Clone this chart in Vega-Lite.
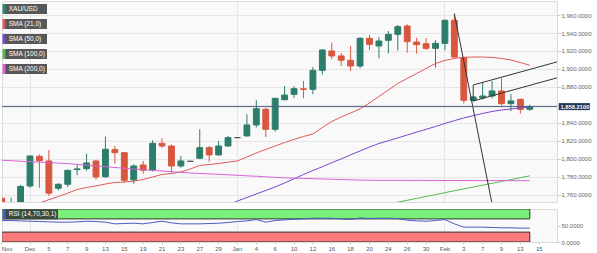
{
  "$schema": "https://vega.github.io/schema/vega-lite/v6.json",
  "padding": 0,
  "background": "white",
  "spacing": 5,
  "config": {
    "view": {"fill": "#f9f9f9", "stroke": "#dcdcdc"},
    "font": "Liberation Sans",
    "axis": {"labelOverlap": false},
    "axisX": {"labels": false, "ticks": false, "domain": false, "title": null, "grid": true, "gridColor": "#e4e4e4"},
    "axisY": {"title": null, "labelOverlap": false}
  },
  "resolve": {"scale": {"color": "independent"}, "legend": {"color": "independent"}},
  "datasets": {
    "candles": [
      {"d":"2022-11-28","o":1756.5,"h":1758,"l":1740,"c":1742},
      {"d":"2022-11-29","o":1741,"h":1757,"l":1738,"c":1749},
      {"d":"2022-11-30","o":1749,"h":1771,"l":1744,"c":1769.5},
      {"d":"2022-12-01","o":1770,"h":1803.8,"l":1768,"c":1803.3},
      {"d":"2022-12-02","o":1803,"h":1805,"l":1768,"c":1798},
      {"d":"2022-12-05","o":1797.8,"h":1810,"l":1759,"c":1762},
      {"d":"2022-12-06","o":1767.5,"h":1773,"l":1765,"c":1771.9},
      {"d":"2022-12-07","o":1771.9,"h":1788,"l":1769,"c":1787.4},
      {"d":"2022-12-08","o":1788.2,"h":1794,"l":1782,"c":1789},
      {"d":"2022-12-09","o":1789.2,"h":1805.9,"l":1787,"c":1795.6},
      {"d":"2022-12-12","o":1797.8,"h":1799,"l":1777,"c":1780},
      {"d":"2022-12-13","o":1780.3,"h":1824.8,"l":1779,"c":1810.8},
      {"d":"2022-12-14","o":1810.4,"h":1814.4,"l":1794.8,"c":1807},
      {"d":"2022-12-15","o":1807,"h":1808,"l":1773.7,"c":1776.3},
      {"d":"2022-12-16","o":1776.7,"h":1794,"l":1772.6,"c":1792.2},
      {"d":"2022-12-19","o":1793.3,"h":1797.8,"l":1783.7,"c":1787.4},
      {"d":"2022-12-20","o":1787.8,"h":1820.8,"l":1786,"c":1817.4},
      {"d":"2022-12-21","o":1817.4,"h":1823,"l":1812.6,"c":1814.4},
      {"d":"2022-12-22","o":1814.4,"h":1816,"l":1784.8,"c":1792.2},
      {"d":"2022-12-23","o":1792.2,"h":1803.3,"l":1790.4,"c":1797.8},
      {"d":"2022-12-26","o":1797.4,"h":1797.4,"l":1797.4,"c":1797.4},
      {"d":"2022-12-27","o":1800.8,"h":1833,"l":1800,"c":1812.6},
      {"d":"2022-12-28","o":1812.6,"h":1814.4,"l":1797,"c":1804.5},
      {"d":"2022-12-29","o":1804.5,"h":1820,"l":1803.5,"c":1814.4},
      {"d":"2022-12-30","o":1814.4,"h":1825.6,"l":1813.5,"c":1823.7},
      {"d":"2023-01-02","o":1823.7,"h":1823.7,"l":1823.7,"c":1823.7},
      {"d":"2023-01-03","o":1825.6,"h":1849.7,"l":1825,"c":1837.8},
      {"d":"2023-01-04","o":1837.8,"h":1865.2,"l":1835,"c":1855.9},
      {"d":"2023-01-05","o":1855.2,"h":1857,"l":1824.5,"c":1833},
      {"d":"2023-01-06","o":1833,"h":1868,"l":1830.4,"c":1867.4},
      {"d":"2023-01-09","o":1865.9,"h":1881.1,"l":1865,"c":1871},
      {"d":"2023-01-10","o":1871.9,"h":1881,"l":1868,"c":1878.1},
      {"d":"2023-01-11","o":1878,"h":1886.7,"l":1867.4,"c":1877.4},
      {"d":"2023-01-12","o":1877.4,"h":1902.2,"l":1871.9,"c":1898.5},
      {"d":"2023-01-13","o":1898.5,"h":1922,"l":1894,"c":1921.1},
      {"d":"2023-01-16","o":1920,"h":1929.3,"l":1910.8,"c":1914.5},
      {"d":"2023-01-17","o":1914.5,"h":1918,"l":1903.3,"c":1909.7},
      {"d":"2023-01-18","o":1909.7,"h":1925.6,"l":1897.8,"c":1903.3},
      {"d":"2023-01-19","o":1903.3,"h":1935.5,"l":1900.8,"c":1934.1},
      {"d":"2023-01-20","o":1934.1,"h":1937.8,"l":1921.1,"c":1927.4},
      {"d":"2023-01-23","o":1925.6,"h":1935.6,"l":1911.9,"c":1931.1},
      {"d":"2023-01-24","o":1931.9,"h":1942.2,"l":1917.4,"c":1938.5},
      {"d":"2023-01-25","o":1938.5,"h":1948.9,"l":1920.8,"c":1947},
      {"d":"2023-01-26","o":1947.8,"h":1949.7,"l":1918,"c":1930.4},
      {"d":"2023-01-27","o":1930,"h":1934.8,"l":1917,"c":1927},
      {"d":"2023-01-30","o":1928.1,"h":1934.4,"l":1921,"c":1923},
      {"d":"2023-01-31","o":1923,"h":1932,"l":1901.5,"c":1928.5},
      {"d":"2023-02-01","o":1928.5,"h":1955,"l":1920.8,"c":1954.1},
      {"d":"2023-02-02","o":1954.1,"h":1961.5,"l":1912,"c":1913.3},
      {"d":"2023-02-03","o":1912.6,"h":1913.5,"l":1861.5,"c":1865.2},
      {"d":"2023-02-06","o":1865.2,"h":1870,"l":1863.7,"c":1868.9},
      {"d":"2023-02-07","o":1868,"h":1884.8,"l":1866,"c":1870},
      {"d":"2023-02-08","o":1870,"h":1886.7,"l":1867.4,"c":1875.6},
      {"d":"2023-02-09","o":1875.6,"h":1889.6,"l":1859.5,"c":1861.5},
      {"d":"2023-02-10","o":1861.5,"h":1871.9,"l":1853.3,"c":1864.5},
      {"d":"2023-02-13","o":1866.3,"h":1867,"l":1850.4,"c":1855.2},
      {"d":"2023-02-14","o":1855.2,"h":1860.5,"l":1853.5,"c":1858.21}
    ],
    "sma": [
      {"s":"SMA (21,0)","d":"2022-11-28","v":1740},{"s":"SMA (21,0)","d":"2022-11-29","v":1742.5},{"s":"SMA (21,0)","d":"2022-11-30","v":1745},
      {"s":"SMA (21,0)","d":"2022-12-01","v":1747.6},{"s":"SMA (21,0)","d":"2022-12-02","v":1751.1},{"s":"SMA (21,0)","d":"2022-12-05","v":1754.8},
      {"s":"SMA (21,0)","d":"2022-12-06","v":1758.3},{"s":"SMA (21,0)","d":"2022-12-07","v":1762},{"s":"SMA (21,0)","d":"2022-12-08","v":1766.1},
      {"s":"SMA (21,0)","d":"2022-12-09","v":1768.3},{"s":"SMA (21,0)","d":"2022-12-12","v":1770},{"s":"SMA (21,0)","d":"2022-12-13","v":1772.2},
      {"s":"SMA (21,0)","d":"2022-12-14","v":1773.9},{"s":"SMA (21,0)","d":"2022-12-15","v":1774.4},{"s":"SMA (21,0)","d":"2022-12-16","v":1775.3},
      {"s":"SMA (21,0)","d":"2022-12-19","v":1777.2},{"s":"SMA (21,0)","d":"2022-12-20","v":1780},{"s":"SMA (21,0)","d":"2022-12-21","v":1782.8},
      {"s":"SMA (21,0)","d":"2022-12-22","v":1783.9},{"s":"SMA (21,0)","d":"2022-12-23","v":1785.6},{"s":"SMA (21,0)","d":"2022-12-26","v":1788.9},
      {"s":"SMA (21,0)","d":"2022-12-27","v":1792.8},{"s":"SMA (21,0)","d":"2022-12-28","v":1793.9},{"s":"SMA (21,0)","d":"2022-12-29","v":1795},
      {"s":"SMA (21,0)","d":"2022-12-30","v":1796.5},{"s":"SMA (21,0)","d":"2023-01-02","v":1797.8},{"s":"SMA (21,0)","d":"2023-01-03","v":1802.2},
      {"s":"SMA (21,0)","d":"2023-01-04","v":1806.7},{"s":"SMA (21,0)","d":"2023-01-05","v":1810.6},{"s":"SMA (21,0)","d":"2023-01-06","v":1814.4},
      {"s":"SMA (21,0)","d":"2023-01-09","v":1818.3},{"s":"SMA (21,0)","d":"2023-01-10","v":1821.7},{"s":"SMA (21,0)","d":"2023-01-11","v":1825},
      {"s":"SMA (21,0)","d":"2023-01-12","v":1827.8},{"s":"SMA (21,0)","d":"2023-01-13","v":1835},{"s":"SMA (21,0)","d":"2023-01-16","v":1841.7},
      {"s":"SMA (21,0)","d":"2023-01-17","v":1846.7},{"s":"SMA (21,0)","d":"2023-01-18","v":1851.1},{"s":"SMA (21,0)","d":"2023-01-19","v":1855.6},
      {"s":"SMA (21,0)","d":"2023-01-20","v":1862.2},{"s":"SMA (21,0)","d":"2023-01-23","v":1869.5},{"s":"SMA (21,0)","d":"2023-01-24","v":1876.7},
      {"s":"SMA (21,0)","d":"2023-01-25","v":1883.9},{"s":"SMA (21,0)","d":"2023-01-26","v":1889.5},{"s":"SMA (21,0)","d":"2023-01-27","v":1895},
      {"s":"SMA (21,0)","d":"2023-01-30","v":1900.6},{"s":"SMA (21,0)","d":"2023-01-31","v":1906.1},{"s":"SMA (21,0)","d":"2023-02-01","v":1909.5},
      {"s":"SMA (21,0)","d":"2023-02-02","v":1911.7},{"s":"SMA (21,0)","d":"2023-02-03","v":1913},{"s":"SMA (21,0)","d":"2023-02-06","v":1913.3},
      {"s":"SMA (21,0)","d":"2023-02-07","v":1913.3},{"s":"SMA (21,0)","d":"2023-02-08","v":1912.8},{"s":"SMA (21,0)","d":"2023-02-09","v":1911.7},
      {"s":"SMA (21,0)","d":"2023-02-10","v":1910},{"s":"SMA (21,0)","d":"2023-02-13","v":1907.2},{"s":"SMA (21,0)","d":"2023-02-14","v":1904.1},

      {"s":"SMA (50,0)","d":"2022-12-29","v":1744.5},{"s":"SMA (50,0)","d":"2022-12-30","v":1748.3},{"s":"SMA (50,0)","d":"2023-01-02","v":1753.3},
      {"s":"SMA (50,0)","d":"2023-01-03","v":1757.2},{"s":"SMA (50,0)","d":"2023-01-04","v":1761.1},{"s":"SMA (50,0)","d":"2023-01-05","v":1765},
      {"s":"SMA (50,0)","d":"2023-01-06","v":1768.9},{"s":"SMA (50,0)","d":"2023-01-09","v":1773.3},{"s":"SMA (50,0)","d":"2023-01-10","v":1778},
      {"s":"SMA (50,0)","d":"2023-01-11","v":1782.8},{"s":"SMA (50,0)","d":"2023-01-12","v":1787.2},{"s":"SMA (50,0)","d":"2023-01-13","v":1791.4},
      {"s":"SMA (50,0)","d":"2023-01-16","v":1795.9},{"s":"SMA (50,0)","d":"2023-01-17","v":1800.1},{"s":"SMA (50,0)","d":"2023-01-18","v":1804.6},
      {"s":"SMA (50,0)","d":"2023-01-19","v":1808.9},{"s":"SMA (50,0)","d":"2023-01-20","v":1813.3},{"s":"SMA (50,0)","d":"2023-01-23","v":1817.2},
      {"s":"SMA (50,0)","d":"2023-01-24","v":1820.3},{"s":"SMA (50,0)","d":"2023-01-25","v":1823.4},{"s":"SMA (50,0)","d":"2023-01-26","v":1826.7},
      {"s":"SMA (50,0)","d":"2023-01-27","v":1829.8},{"s":"SMA (50,0)","d":"2023-01-30","v":1833},{"s":"SMA (50,0)","d":"2023-01-31","v":1836.1},
      {"s":"SMA (50,0)","d":"2023-02-01","v":1839.5},{"s":"SMA (50,0)","d":"2023-02-02","v":1842.6},{"s":"SMA (50,0)","d":"2023-02-03","v":1845.6},
      {"s":"SMA (50,0)","d":"2023-02-06","v":1848.1},{"s":"SMA (50,0)","d":"2023-02-07","v":1850.6},{"s":"SMA (50,0)","d":"2023-02-08","v":1852.8},
      {"s":"SMA (50,0)","d":"2023-02-09","v":1854.4},{"s":"SMA (50,0)","d":"2023-02-10","v":1855.6},{"s":"SMA (50,0)","d":"2023-02-13","v":1856.7},
      {"s":"SMA (50,0)","d":"2023-02-14","v":1857.8},

      {"s":"SMA (100,0)","d":"2023-01-23","v":1747.8},{"s":"SMA (100,0)","d":"2023-01-24","v":1749.9},{"s":"SMA (100,0)","d":"2023-01-25","v":1752},
      {"s":"SMA (100,0)","d":"2023-01-26","v":1754.1},{"s":"SMA (100,0)","d":"2023-01-27","v":1756.2},{"s":"SMA (100,0)","d":"2023-01-30","v":1758.3},
      {"s":"SMA (100,0)","d":"2023-01-31","v":1760.4},{"s":"SMA (100,0)","d":"2023-02-01","v":1762.6},{"s":"SMA (100,0)","d":"2023-02-02","v":1764.7},
      {"s":"SMA (100,0)","d":"2023-02-03","v":1766.7},{"s":"SMA (100,0)","d":"2023-02-06","v":1768.8},{"s":"SMA (100,0)","d":"2023-02-07","v":1770.9},
      {"s":"SMA (100,0)","d":"2023-02-08","v":1773},{"s":"SMA (100,0)","d":"2023-02-09","v":1775},{"s":"SMA (100,0)","d":"2023-02-10","v":1777.1},
      {"s":"SMA (100,0)","d":"2023-02-13","v":1779.2},{"s":"SMA (100,0)","d":"2023-02-14","v":1781.3},

      {"s":"SMA (200,0)","d":"2022-11-28","v":1798.6},{"s":"SMA (200,0)","d":"2022-11-29","v":1798.1},{"s":"SMA (200,0)","d":"2022-11-30","v":1797.5},
      {"s":"SMA (200,0)","d":"2022-12-01","v":1797},{"s":"SMA (200,0)","d":"2022-12-02","v":1796.5},{"s":"SMA (200,0)","d":"2022-12-05","v":1796},
      {"s":"SMA (200,0)","d":"2022-12-06","v":1795.4},{"s":"SMA (200,0)","d":"2022-12-07","v":1794.9},{"s":"SMA (200,0)","d":"2022-12-08","v":1794},
      {"s":"SMA (200,0)","d":"2022-12-09","v":1793.2},{"s":"SMA (200,0)","d":"2022-12-12","v":1792.3},{"s":"SMA (200,0)","d":"2022-12-13","v":1791.4},
      {"s":"SMA (200,0)","d":"2022-12-14","v":1790.6},{"s":"SMA (200,0)","d":"2022-12-15","v":1789.7},{"s":"SMA (200,0)","d":"2022-12-16","v":1788.8},
      {"s":"SMA (200,0)","d":"2022-12-19","v":1788.1},{"s":"SMA (200,0)","d":"2022-12-20","v":1787.4},{"s":"SMA (200,0)","d":"2022-12-21","v":1786.6},
      {"s":"SMA (200,0)","d":"2022-12-22","v":1785.9},{"s":"SMA (200,0)","d":"2022-12-23","v":1785.1},{"s":"SMA (200,0)","d":"2022-12-26","v":1784.4},
      {"s":"SMA (200,0)","d":"2022-12-27","v":1783.9},{"s":"SMA (200,0)","d":"2022-12-28","v":1783.4},{"s":"SMA (200,0)","d":"2022-12-29","v":1782.9},
      {"s":"SMA (200,0)","d":"2022-12-30","v":1782.4},{"s":"SMA (200,0)","d":"2023-01-02","v":1781.9},{"s":"SMA (200,0)","d":"2023-01-03","v":1781.3},
      {"s":"SMA (200,0)","d":"2023-01-04","v":1780.8},{"s":"SMA (200,0)","d":"2023-01-05","v":1780.2},{"s":"SMA (200,0)","d":"2023-01-06","v":1779.6},
      {"s":"SMA (200,0)","d":"2023-01-09","v":1779.1},{"s":"SMA (200,0)","d":"2023-01-10","v":1778.7},{"s":"SMA (200,0)","d":"2023-01-11","v":1778.4},
      {"s":"SMA (200,0)","d":"2023-01-12","v":1778.1},{"s":"SMA (200,0)","d":"2023-01-13","v":1777.8},{"s":"SMA (200,0)","d":"2023-01-16","v":1777.5},
      {"s":"SMA (200,0)","d":"2023-01-17","v":1777.2},{"s":"SMA (200,0)","d":"2023-01-18","v":1776.9},{"s":"SMA (200,0)","d":"2023-01-19","v":1776.6},
      {"s":"SMA (200,0)","d":"2023-01-20","v":1776.4},{"s":"SMA (200,0)","d":"2023-01-23","v":1776.3},{"s":"SMA (200,0)","d":"2023-01-24","v":1776.3},
      {"s":"SMA (200,0)","d":"2023-01-25","v":1776.3},{"s":"SMA (200,0)","d":"2023-01-26","v":1776.2},{"s":"SMA (200,0)","d":"2023-01-27","v":1776.2},
      {"s":"SMA (200,0)","d":"2023-01-30","v":1776.2},{"s":"SMA (200,0)","d":"2023-01-31","v":1776.1},{"s":"SMA (200,0)","d":"2023-02-01","v":1776.1},
      {"s":"SMA (200,0)","d":"2023-02-02","v":1776.1},{"s":"SMA (200,0)","d":"2023-02-03","v":1776.1},{"s":"SMA (200,0)","d":"2023-02-06","v":1776},
      {"s":"SMA (200,0)","d":"2023-02-07","v":1776},{"s":"SMA (200,0)","d":"2023-02-08","v":1776},{"s":"SMA (200,0)","d":"2023-02-09","v":1776},
      {"s":"SMA (200,0)","d":"2023-02-10","v":1775.9},{"s":"SMA (200,0)","d":"2023-02-13","v":1775.9},{"s":"SMA (200,0)","d":"2023-02-14","v":1775.9}
    ],
    "rsi": [
      {"s":"RSI (14,70,30,1)","d":"2022-11-28","r":65},{"s":"RSI (14,70,30,1)","d":"2022-11-29","r":65},{"s":"RSI (14,70,30,1)","d":"2022-11-30","r":64},
      {"s":"RSI (14,70,30,1)","d":"2022-12-01","r":63},{"s":"RSI (14,70,30,1)","d":"2022-12-02","r":62},{"s":"RSI (14,70,30,1)","d":"2022-12-05","r":61},
      {"s":"RSI (14,70,30,1)","d":"2022-12-06","r":60},{"s":"RSI (14,70,30,1)","d":"2022-12-07","r":60},{"s":"RSI (14,70,30,1)","d":"2022-12-08","r":61},
      {"s":"RSI (14,70,30,1)","d":"2022-12-09","r":63},{"s":"RSI (14,70,30,1)","d":"2022-12-12","r":62},{"s":"RSI (14,70,30,1)","d":"2022-12-13","r":60},
      {"s":"RSI (14,70,30,1)","d":"2022-12-14","r":55},{"s":"RSI (14,70,30,1)","d":"2022-12-15","r":56},{"s":"RSI (14,70,30,1)","d":"2022-12-16","r":57},
      {"s":"RSI (14,70,30,1)","d":"2022-12-19","r":55},{"s":"RSI (14,70,30,1)","d":"2022-12-20","r":59},{"s":"RSI (14,70,30,1)","d":"2022-12-21","r":63},
      {"s":"RSI (14,70,30,1)","d":"2022-12-22","r":58},{"s":"RSI (14,70,30,1)","d":"2022-12-23","r":55},{"s":"RSI (14,70,30,1)","d":"2022-12-26","r":55},
      {"s":"RSI (14,70,30,1)","d":"2022-12-27","r":55},{"s":"RSI (14,70,30,1)","d":"2022-12-28","r":56},{"s":"RSI (14,70,30,1)","d":"2022-12-29","r":57},
      {"s":"RSI (14,70,30,1)","d":"2022-12-30","r":59},{"s":"RSI (14,70,30,1)","d":"2023-01-02","r":62},{"s":"RSI (14,70,30,1)","d":"2023-01-03","r":64},
      {"s":"RSI (14,70,30,1)","d":"2023-01-04","r":68},{"s":"RSI (14,70,30,1)","d":"2023-01-05","r":60},{"s":"RSI (14,70,30,1)","d":"2023-01-06","r":65},
      {"s":"RSI (14,70,30,1)","d":"2023-01-09","r":67},{"s":"RSI (14,70,30,1)","d":"2023-01-10","r":69},{"s":"RSI (14,70,30,1)","d":"2023-01-11","r":70},
      {"s":"RSI (14,70,30,1)","d":"2023-01-12","r":72},{"s":"RSI (14,70,30,1)","d":"2023-01-13","r":72},{"s":"RSI (14,70,30,1)","d":"2023-01-16","r":72},
      {"s":"RSI (14,70,30,1)","d":"2023-01-17","r":70},{"s":"RSI (14,70,30,1)","d":"2023-01-18","r":68},{"s":"RSI (14,70,30,1)","d":"2023-01-19","r":73},
      {"s":"RSI (14,70,30,1)","d":"2023-01-20","r":71},{"s":"RSI (14,70,30,1)","d":"2023-01-23","r":72},{"s":"RSI (14,70,30,1)","d":"2023-01-24","r":72},
      {"s":"RSI (14,70,30,1)","d":"2023-01-25","r":71},{"s":"RSI (14,70,30,1)","d":"2023-01-26","r":66},{"s":"RSI (14,70,30,1)","d":"2023-01-27","r":64},
      {"s":"RSI (14,70,30,1)","d":"2023-01-30","r":63},{"s":"RSI (14,70,30,1)","d":"2023-01-31","r":65},{"s":"RSI (14,70,30,1)","d":"2023-02-01","r":68},
      {"s":"RSI (14,70,30,1)","d":"2023-02-02","r":55},{"s":"RSI (14,70,30,1)","d":"2023-02-03","r":45},{"s":"RSI (14,70,30,1)","d":"2023-02-06","r":45},
      {"s":"RSI (14,70,30,1)","d":"2023-02-07","r":45},{"s":"RSI (14,70,30,1)","d":"2023-02-08","r":44},{"s":"RSI (14,70,30,1)","d":"2023-02-09","r":43},
      {"s":"RSI (14,70,30,1)","d":"2023-02-10","r":43},{"s":"RSI (14,70,30,1)","d":"2023-02-13","r":42},{"s":"RSI (14,70,30,1)","d":"2023-02-14","r":42}
    ],
    "ann": [
      {"seg":"drop","d":"2023-02-02","p":1961.5},{"seg":"drop","d":"2023-02-08","p":1750},
      {"seg":"upper","d":"2023-02-06","p":1882.2},{"seg":"upper","d":"2023-02-17","p":1908.2},
      {"seg":"lower","d":"2023-02-06","p":1864.5},{"seg":"lower","d":"2023-02-17","p":1890.5},
      {"seg":"edge","d":"2023-02-06","p":1864.5},{"seg":"edge","d":"2023-02-06","p":1882.2}
    ],
    "last": [{"p":1858.21}]
  },
  "vconcat": [
    {
      "width": 555,
      "height": 201,
      "layer": [
        {
          "mark": {"type": "text", "text": "FX", "align": "left", "baseline": "middle", "dx": -2, "fontSize": 15, "fontWeight": "bold", "font": "Liberation Sans Narrow", "color": "#8c8c8c", "opacity": 0.8},
          "encoding": {
            "x": {"datum": "2022-11-29", "type": "ordinal", "scale": {"type": "band", "domain": ["2022-11-28","2022-11-29","2022-11-30","2022-12-01","2022-12-02","2022-12-05","2022-12-06","2022-12-07","2022-12-08","2022-12-09","2022-12-12","2022-12-13","2022-12-14","2022-12-15","2022-12-16","2022-12-19","2022-12-20","2022-12-21","2022-12-22","2022-12-23","2022-12-26","2022-12-27","2022-12-28","2022-12-29","2022-12-30","2023-01-02","2023-01-03","2023-01-04","2023-01-05","2023-01-06","2023-01-09","2023-01-10","2023-01-11","2023-01-12","2023-01-13","2023-01-16","2023-01-17","2023-01-18","2023-01-19","2023-01-20","2023-01-23","2023-01-24","2023-01-25","2023-01-26","2023-01-27","2023-01-30","2023-01-31","2023-02-01","2023-02-02","2023-02-03","2023-02-06","2023-02-07","2023-02-08","2023-02-09","2023-02-10","2023-02-13","2023-02-14","2023-02-15","2023-02-16","2023-02-17"], "range": [-5, 560.8], "paddingInner": 0, "paddingOuter": 0},
              "axis": {"values": ["2022-12-01","2023-01-02","2023-02-01"]}},
            "y": {"datum": 1770.6, "type": "quantitative", "scale": {"domain": [1752.2, 1975.56], "nice": false, "zero": false}}
          }
        },
        {
          "mark": {"type": "text", "text": "STREET", "align": "left", "baseline": "middle", "dx": 13, "fontSize": 15, "fontWeight": "bold", "font": "Liberation Sans Narrow", "color": "#f0b070", "opacity": 0.8},
          "encoding": {
            "x": {"datum": "2022-11-29", "type": "ordinal"},
            "y": {"datum": 1770.6, "type": "quantitative"}
          }
        },
        {
          "data": {"name": "candles"},
          "mark": {"type": "rule", "strokeWidth": 1, "clip": true},
          "encoding": {
            "x": {"field": "d", "type": "ordinal"},
            "y": {"field": "l", "type": "quantitative", "scale": {"domain": [1752.2, 1975.56], "nice": false, "zero": false},
              "axis": {"orient": "right", "values": [1760,1780,1800,1820,1840,1860,1880,1900,1920,1940,1960], "tickCount": 12, "format": ",.4f", "labelExpr": "datum.value == 1860 ? '' : datum.label", "labelOverlap": false, "grid": true, "gridColor": "#e6e6e6", "domain": false, "tickSize": 3, "tickColor": "#c8c8c8", "labelFontSize": 6, "labelColor": "#666666", "labelPadding": 1}},
            "y2": {"field": "h"},
            "stroke": {"condition": [{"test": "datum.c == datum.o", "value": "#555555"}, {"test": "datum.c > datum.o", "value": "#2d7d6b"}], "value": "#d9573f"}
          }
        },
        {
          "data": {"name": "candles"},
          "mark": {"type": "bar", "width": {"band": 0.62}, "strokeWidth": 1, "clip": true},
          "encoding": {
            "x": {"field": "d", "type": "ordinal"},
            "y": {"field": "o", "type": "quantitative"},
            "y2": {"field": "c"},
            "fill": {"condition": [{"test": "datum.c == datum.o", "value": "#555555"}, {"test": "datum.c > datum.o", "value": "#2d7d6b"}], "value": "#d9573f"},
            "stroke": {"condition": [{"test": "datum.c == datum.o", "value": "#555555"}, {"test": "datum.c > datum.o", "value": "#2d7d6b"}], "value": "#d9573f"}
          }
        },
        {
          "data": {"name": "sma"},
          "mark": {"type": "line", "strokeWidth": 1, "clip": true},
          "encoding": {
            "x": {"field": "d", "type": "ordinal"},
            "y": {"field": "v", "type": "quantitative"},
            "color": {"field": "s", "type": "nominal",
              "scale": {"domain": ["XAU/USD","SMA (21,0)","SMA (50,0)","SMA (100,0)","SMA (200,0)"], "range": ["#2d8a78","#e05a5a","#7b45cc","#52bb52","#d862d8"]},
              "legend": {"title": null, "orient": "none", "legendX": -1.25, "legendY": 4.75, "padding": 0, "rowPadding": -9.6, "symbolType": "M0,-10L0,10L86,10L86,-10Z", "symbolSize": 1, "symbolStrokeWidth": 3, "symbolDash": [10, 400], "symbolFillColor": "#575757", "symbolOpacity": 1, "labelColor": "#ffffff", "labelFontSize": 6.5, "labelOffset": 1.5, "labelFont": "Liberation Sans",
                "encode": {"symbols": {"update": {"fill": {"value": "#575757"}, "fillOpacity": {"value": 1}, "strokeWidth": {"value": 3}}}}}
            }
          }
        },
        {
          "data": {"name": "ann"},
          "mark": {"type": "line", "strokeWidth": 1, "color": "#333333", "clip": true},
          "encoding": {
            "x": {"field": "d", "type": "ordinal"},
            "y": {"field": "p", "type": "quantitative"},
            "detail": {"field": "seg"}
          }
        },
        {
          "data": {"name": "last"},
          "mark": {"type": "rule", "strokeWidth": 1, "color": "#4f6080"},
          "encoding": {"y": {"field": "p", "type": "quantitative"}}
        },
        {
          "data": {"name": "last"},
          "mark": {"type": "point", "x": "width", "shape": "M0.5,-1L9.4,-1L9.4,1L0.5,1Z", "size": 49, "filled": true, "fill": "#22365c", "opacity": 1, "strokeWidth": 0},
          "encoding": {"y": {"field": "p", "type": "quantitative"}}
        },
        {
          "data": {"name": "last"},
          "mark": {"type": "text", "x": "width", "dx": 3.5, "align": "left", "baseline": "middle", "fontSize": 5.8, "fontWeight": "bold", "color": "#ffffff"},
          "encoding": {"y": {"field": "p", "type": "quantitative"}, "text": {"field": "p", "type": "quantitative", "format": ",.4f"}}
        }
      ]
    },
    {
      "width": 555,
      "height": 33,
      "data": {"name": "rsi"},
      "layer": [
        {
          "mark": {"type": "area", "fill": "#7af07a", "stroke": "#333333", "strokeWidth": 1, "clip": true},
          "encoding": {
            "x": {"field": "d", "type": "ordinal", "scale": {"type": "band", "domain": ["2022-11-28","2022-11-29","2022-11-30","2022-12-01","2022-12-02","2022-12-05","2022-12-06","2022-12-07","2022-12-08","2022-12-09","2022-12-12","2022-12-13","2022-12-14","2022-12-15","2022-12-16","2022-12-19","2022-12-20","2022-12-21","2022-12-22","2022-12-23","2022-12-26","2022-12-27","2022-12-28","2022-12-29","2022-12-30","2023-01-02","2023-01-03","2023-01-04","2023-01-05","2023-01-06","2023-01-09","2023-01-10","2023-01-11","2023-01-12","2023-01-13","2023-01-16","2023-01-17","2023-01-18","2023-01-19","2023-01-20","2023-01-23","2023-01-24","2023-01-25","2023-01-26","2023-01-27","2023-01-30","2023-01-31","2023-02-01","2023-02-02","2023-02-03","2023-02-06","2023-02-07","2023-02-08","2023-02-09","2023-02-10","2023-02-13","2023-02-14","2023-02-15","2023-02-16","2023-02-17"], "range": [-5, 560.8], "paddingInner": 0, "paddingOuter": 0},
              "axis": {"values": ["2022-11-28","2022-12-01","2022-12-05","2022-12-07","2022-12-09","2022-12-13","2022-12-15","2022-12-19","2022-12-21","2022-12-23","2022-12-27","2022-12-29","2023-01-02","2023-01-04","2023-01-06","2023-01-10","2023-01-12","2023-01-16","2023-01-18","2023-01-20","2023-01-24","2023-01-26","2023-01-30","2023-02-01","2023-02-03","2023-02-07","2023-02-09","2023-02-13","2023-02-15"],
                "labels": true, "ticks": true, "tickSize": 2, "tickColor": "#cccccc", "labelOverlap": false,
                "labelExpr": "datum.value == '2022-11-28' ? 'Nov' : datum.value == '2022-12-01' ? 'Dec' : datum.value == '2023-01-02' ? 'Jan' : datum.value == '2023-02-01' ? 'Feb' : '' + toNumber(substring(datum.value, 8, 10))",
                "labelAlign": {"condition": {"test": "datum.value == '2022-11-28'", "value": "left"}, "value": "center"},
                "gridOpacity": {"condition": {"test": "datum.value == '2022-12-01' || datum.value == '2023-01-02' || datum.value == '2023-02-01'", "value": 1}, "value": 0},
                "labelFontSize": 6, "labelColor": "#555555", "labelPadding": 1.5, "labelAngle": 0}},
            "y": {"datum": 70, "type": "quantitative", "scale": {"domain": [0, 100], "nice": false},
              "axis": {"orient": "right", "values": [0, 50], "format": ".4f", "grid": false, "domain": false, "tickSize": 3, "tickColor": "#c8c8c8", "labelFontSize": 6, "labelColor": "#666666", "labelPadding": 1}},
            "y2": {"datum": 100}
          }
        },
        {
          "mark": {"type": "area", "fill": "#f87a7a", "stroke": "#333333", "strokeWidth": 1, "clip": true},
          "encoding": {
            "x": {"field": "d", "type": "ordinal"},
            "y": {"datum": 0, "type": "quantitative"},
            "y2": {"datum": 30}
          }
        },
        {
          "mark": {"type": "line", "strokeWidth": 1, "clip": true},
          "encoding": {
            "x": {"field": "d", "type": "ordinal"},
            "y": {"field": "r", "type": "quantitative"},
            "color": {"field": "s", "type": "nominal", "scale": {"domain": ["RSI (14,70,30,1)"], "range": ["#4b5cc4"]},
              "legend": {"title": null, "orient": "none", "legendX": -1.25, "legendY": 2, "padding": 0, "symbolType": "M0,-10L0,10L108,10L108,-10Z", "symbolSize": 1, "symbolStrokeWidth": 3, "symbolDash": [10, 400], "symbolFillColor": "#3a4a3a", "symbolOpacity": 1, "labelColor": "#ffffff", "labelFontSize": 6.5, "labelOffset": 1.5, "labelFont": "Liberation Sans",
                "encode": {"symbols": {"update": {"fill": {"value": "#3a4a3a"}, "fillOpacity": {"value": 1}, "strokeWidth": {"value": 3}}}}}
            }
          }
        }
      ]
    }
  ]
}
